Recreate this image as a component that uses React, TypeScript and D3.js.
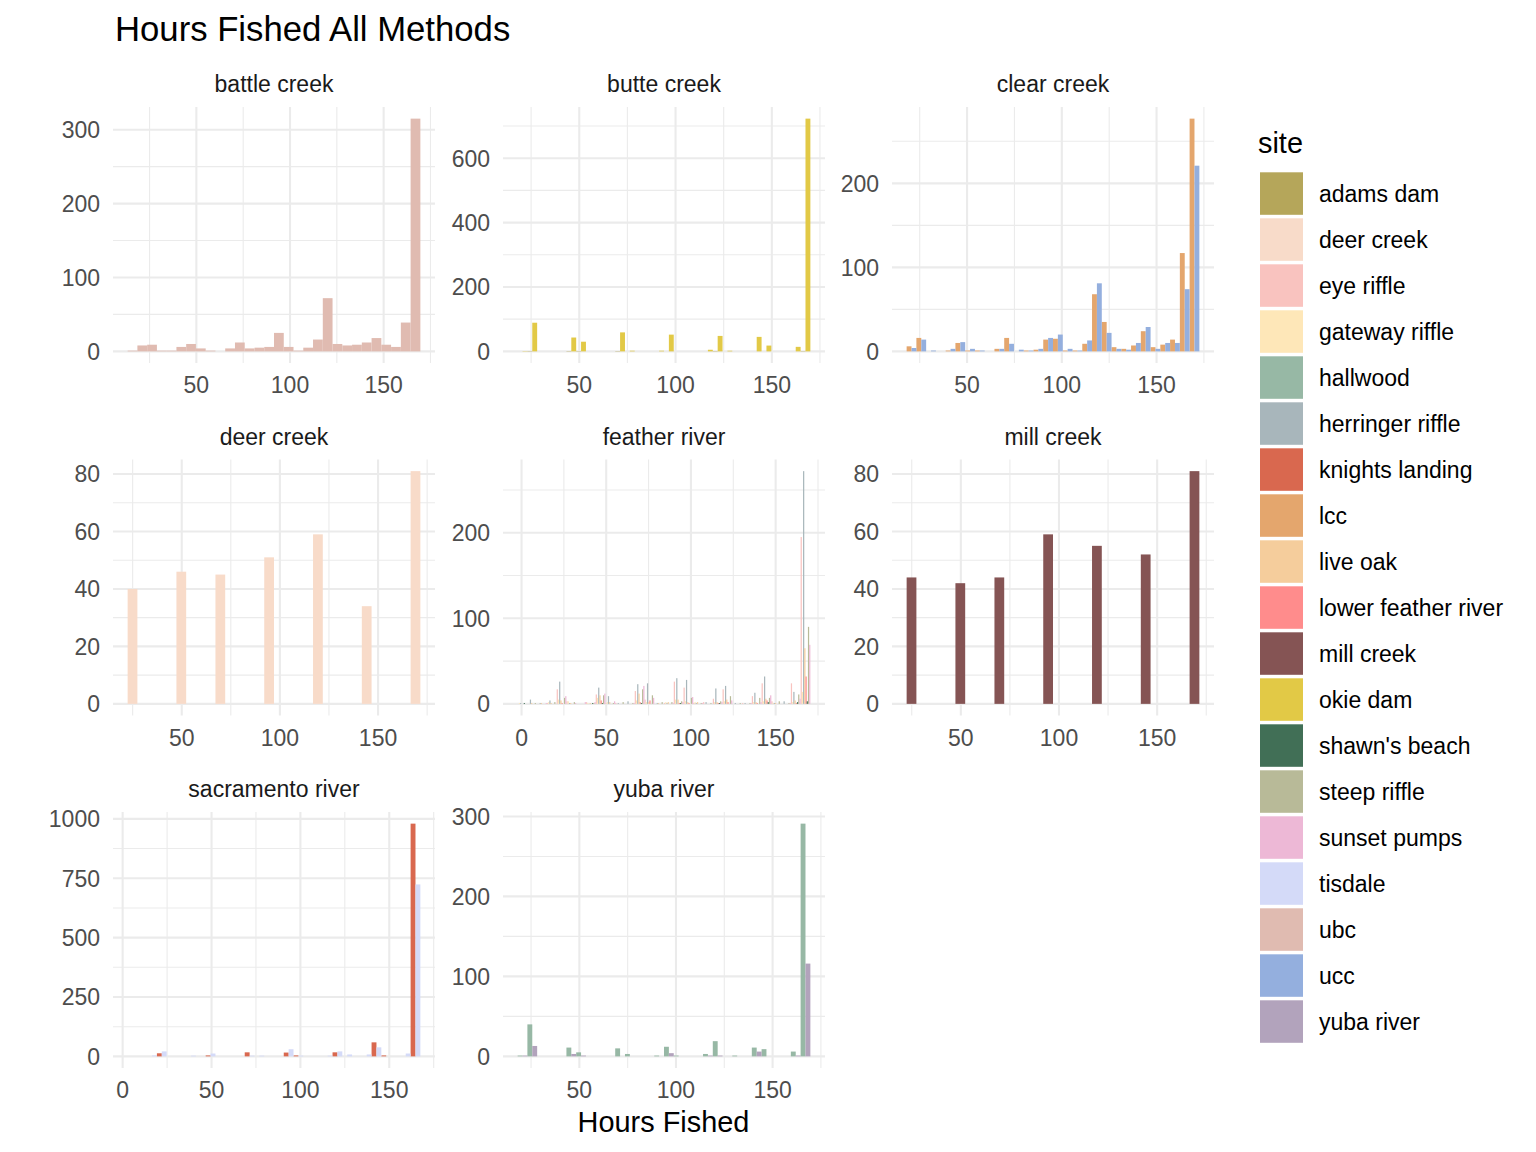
import React from "react";
import * as d3 from "d3";

// legend / fill scale
const SITES = [
  "adams dam", "deer creek", "eye riffle", "gateway riffle", "hallwood",
  "herringer riffle", "knights landing", "lcc", "live oak", "lower feather river",
  "mill creek", "okie dam", "shawn's beach", "steep riffle", "sunset pumps",
  "tisdale", "ubc", "ucc", "yuba river",
];
const SITE_COLORS = [
  "#B5A65A", "#F8DBC9", "#F9C3BF", "#FEE7B8", "#97B8A5",
  "#A8B6BB", "#D9684F", "#E4A66D", "#F5CD9C", "#FF8C8C",
  "#855454", "#E2C946", "#416F56", "#B8BA98", "#EDB8D6",
  "#D4DAF8", "#E0BBB1", "#94AFDE", "#B2A3BC",
];

// counts per bin (30 bins per panel)
const battleUbc = [1, 8, 9, 1, 1, 6, 10, 4, 1, 0, 4, 12, 4, 5, 6, 25, 6, 1, 5, 16, 72, 10, 8, 9, 12, 18, 9, 6, 39, 315];

const butteAdams = [0, 1, 0, 0, 0, 1, 1, 0, 0, 0, 1, 0, 0, 0, 0, 0, 0, 0, 0, 0, 1, 0, 0, 0, 0, 0, 0, 0, 0, 1];
const butteOkie = [1, 89, 0, 0, 0, 43, 30, 0, 0, 0, 59, 2, 0, 0, 2, 52, 0, 0, 0, 5, 48, 2, 0, 0, 45, 18, 0, 0, 14, 723];

const clearLcc = [6, 16, 0, 0, 1, 10, 1, 1, 0, 3, 16, 0, 1, 2, 14, 15, 1, 1, 9, 68, 35, 5, 3, 7, 24, 5, 8, 14, 117, 277];
const clearUcc = [4, 14, 1, 0, 3, 11, 3, 1, 0, 3, 9, 2, 1, 3, 16, 20, 3, 1, 13, 81, 22, 3, 2, 10, 29, 3, 10, 10, 74, 221];

const deerDeer = [40, 0, 0, 0, 0, 46, 0, 0, 0, 45, 0, 0, 0, 0, 51, 0, 0, 0, 0, 59, 0, 0, 0, 0, 34, 0, 0, 0, 0, 81];

const featherEye = [0, 0, 0, 1, 17, 3, 0, 2, 11, 1, 1, 0, 15, 5, 0, 1, 26, 19, 1, 2, 6, 17, 0, 1, 9, 24, 3, 0, 24, 195];
const featherGateway = [1, 0, 0, 2, 5, 3, 0, 1, 7, 2, 0, 0, 4, 2, 0, 2, 5, 3, 2, 0, 2, 3, 0, 0, 2, 3, 1, 0, 2, 14];
const featherHerringer = [1, 5, 1, 4, 26, 1, 0, 0, 19, 9, 1, 3, 23, 24, 1, 1, 30, 28, 1, 2, 18, 21, 1, 1, 13, 32, 1, 3, 14, 272];
const featherLiveOak = [0, 1, 1, 1, 4, 1, 0, 1, 10, 2, 0, 0, 12, 2, 1, 2, 5, 2, 2, 0, 2, 5, 0, 0, 2, 6, 1, 0, 4, 65];
const featherLowerFeather = [0, 0, 0, 0, 1, 0, 0, 0, 4, 0, 0, 0, 2, 4, 0, 0, 1, 1, 0, 0, 1, 2, 0, 0, 1, 4, 0, 0, 1, 32];
const featherShawns = [1, 0, 0, 0, 0, 0, 0, 1, 1, 0, 0, 0, 1, 0, 0, 0, 1, 0, 0, 0, 1, 0, 0, 0, 0, 2, 0, 0, 2, 3];
const featherSteep = [0, 1, 0, 2, 7, 2, 0, 1, 10, 1, 2, 1, 17, 10, 2, 2, 3, 7, 1, 1, 3, 9, 1, 1, 7, 7, 3, 1, 11, 90];
const featherSunset = [0, 0, 1, 0, 9, 1, 2, 2, 12, 3, 0, 1, 21, 7, 0, 1, 2, 8, 1, 0, 2, 4, 0, 1, 2, 10, 0, 1, 6, 69];

const millMill = [44, 0, 0, 0, 0, 42, 0, 0, 0, 44, 0, 0, 0, 0, 59, 0, 0, 0, 0, 55, 0, 0, 0, 0, 52, 0, 0, 0, 0, 81];

const sacKnights = [0, 0, 0, 13, 0, 0, 0, 0, 4, 0, 0, 0, 17, 0, 0, 0, 16, 4, 0, 0, 0, 17, 0, 0, 0, 59, 4, 0, 0, 980];
const sacTisdale = [0, 0, 4, 21, 0, 0, 3, 0, 12, 0, 0, 0, 3, 3, 0, 0, 30, 3, 0, 0, 3, 21, 8, 0, 8, 38, 0, 0, 12, 724];

const yubaHallwood = [1, 40, 0, 0, 0, 11, 5, 0, 0, 0, 10, 3, 0, 0, 1, 12, 1, 0, 0, 3, 19, 0, 1, 0, 11, 9, 0, 0, 6, 291];
const yubaYuba = [1, 13, 0, 0, 0, 3, 1, 0, 0, 0, 0, 0, 0, 0, 0, 4, 0, 0, 0, 1, 1, 0, 0, 0, 6, 0, 0, 0, 1, 116];

// panel definitions: first bin edge, bin width, axis breaks
const panels = [
  { name: "battle creek", start: 13.3, bw: 5.21, xb: [50, 100, 150], yb: [0, 100, 200, 300],
    series: [["ubc", battleUbc]] },
  { name: "butte creek", start: 18, bw: 5.067, xb: [50, 100, 150], yb: [0, 200, 400, 600],
    series: [["adams dam", butteAdams], ["okie dam", butteOkie]] },
  { name: "clear creek", start: 18.1, bw: 5.15, xb: [50, 100, 150], yb: [0, 100, 200],
    series: [["lcc", clearLcc], ["ucc", clearUcc]] },
  { name: "deer creek", start: 22.45, bw: 4.97, xb: [50, 100, 150], yb: [0, 20, 40, 60, 80],
    series: [["deer creek", deerDeer]] },
  { name: "feather river", start: -2.3, bw: 5.76, xb: [0, 50, 100, 150], yb: [0, 100, 200],
    series: [
      ["eye riffle", featherEye], ["gateway riffle", featherGateway],
      ["herringer riffle", featherHerringer], ["live oak", featherLiveOak],
      ["lower feather river", featherLowerFeather], ["shawn's beach", featherShawns],
      ["steep riffle", featherSteep], ["sunset pumps", featherSunset],
    ] },
  { name: "mill creek", start: 22.4, bw: 4.97, xb: [50, 100, 150], yb: [0, 20, 40, 60, 80],
    series: [["mill creek", millMill]] },
  { name: "sacramento river", start: 2.8, bw: 5.49, xb: [0, 50, 100, 150], yb: [0, 250, 500, 750, 1000],
    series: [["knights landing", sacKnights], ["tisdale", sacTisdale]] },
  { name: "yuba river", start: 18.05, bw: 5.05, xb: [50, 100, 150], yb: [0, 100, 200, 300],
    series: [["hallwood", yubaHallwood], ["yuba river", yubaYuba]] },
];

const FONT = "'Liberation Sans', Arial, Helvetica, sans-serif";
const W = 1536;
const H = 1152;
const colLeft = [113, 503, 892];
const rowTop = [107, 459.5, 812];
const PW = 322;
const PH = 256;
const GRID = "#EBEBEB";

const color = d3.scaleOrdinal<string, string>().domain(SITES).range(SITE_COLORS);

function minorBreaks(major: number[], dom: number[]) {
  const step = major[1] - major[0];
  const out: number[] = [];
  for (let v = major[0] - step / 2; v <= major[major.length - 1] + step / 2 + 1e-9; v += step) {
    if (v >= dom[0] && v <= dom[1]) out.push(v);
  }
  return out;
}

function Panel({ p, idx }: { p: any; idx: number }) {
  const left = colLeft[idx % 3];
  const top = rowTop[Math.floor(idx / 3)];
  const nb = 30;
  const lo = p.start;
  const hi = p.start + nb * p.bw;
  const xr = hi - lo;
  const x = d3.scaleLinear().domain([lo - 0.05 * xr, hi + 0.05 * xr]).range([left, left + PW]);
  const ymax = d3.max(p.series, (s: any) => d3.max(s[1] as number[])) as number;
  const y = d3.scaleLinear().domain([-0.05 * ymax, 1.05 * ymax]).range([top + PH, top]);
  const xMinor = minorBreaks(p.xb, x.domain());
  const yMinor = minorBreaks(p.yb, y.domain());
  const n = p.series.length;

  return (
    <g>
      {yMinor.map((v) => (
        <line key={"ym" + v} x1={left} x2={left + PW} y1={y(v)} y2={y(v)} stroke={GRID} strokeWidth={1.1} />
      ))}
      {xMinor.map((v) => (
        <line key={"xm" + v} x1={x(v)} x2={x(v)} y1={top} y2={top + PH} stroke={GRID} strokeWidth={1.1} />
      ))}
      {p.yb.map((v: number) => (
        <line key={"yM" + v} x1={left} x2={left + PW} y1={y(v)} y2={y(v)} stroke={GRID} strokeWidth={2.1} />
      ))}
      {p.xb.map((v: number) => (
        <line key={"xM" + v} x1={x(v)} x2={x(v)} y1={top} y2={top + PH} stroke={GRID} strokeWidth={2.1} />
      ))}
      {p.series.map((s: any, j: number) =>
        (s[1] as number[]).map((c, i) => {
          if (!c) return null;
          const x0 = lo + i * p.bw + (j * p.bw) / n;
          const x1 = x0 + p.bw / n;
          return (
            <rect
              key={s[0] + i}
              x={x(x0)}
              width={x(x1) - x(x0)}
              y={y(c)}
              height={y(0) - y(c)}
              fill={color(s[0])}
            />
          );
        })
      )}
      <text x={left + PW / 2} y={top - 15} textAnchor="middle" fontSize={23} fill="#1A1A1A" fontFamily={FONT}>
        {p.name}
      </text>
      {p.xb.map((v: number) => (
        <text key={"xt" + v} x={x(v)} y={top + PH + 30} textAnchor="middle" fontSize={23} fill="#4D4D4D" fontFamily={FONT}>
          {v}
        </text>
      ))}
      {p.yb.map((v: number) => (
        <text key={"yt" + v} x={left - 13} y={y(v)} dy="0.36em" textAnchor="end" fontSize={23} fill="#4D4D4D" fontFamily={FONT}>
          {v}
        </text>
      ))}
    </g>
  );
}

export default function App() {
  return (
    <svg
      width={W}
      height={H}
      style={{ position: "absolute", left: 0, top: 0, background: "#fff" }}
    >
      <rect width={W} height={H} fill="#fff" />
      <text x={115} y={41} fontSize={34.7} fill="#000" fontFamily={FONT}>
        Hours Fished All Methods
      </text>
      {panels.map((p, i) => (
        <Panel key={p.name} p={p} idx={i} />
      ))}
      <text x={colLeft[0] + (colLeft[2] + PW - colLeft[0]) / 2} y={1132} textAnchor="middle" fontSize={28.9} fill="#000" fontFamily={FONT}>
        Hours Fished
      </text>
      <text x={1258} y={153} fontSize={28.9} fill="#000" fontFamily={FONT}>
        site
      </text>
      {SITES.map((s, i) => (
        <g key={s}>
          <rect x={1260} y={172.3 + 46 * i} width={43} height={42.5} fill={color(s)} />
          <text x={1319} y={172.3 + 46 * i + 21.25} dy="0.36em" fontSize={23} fill="#000" fontFamily={FONT}>
            {s}
          </text>
        </g>
      ))}
    </svg>
  );
}
